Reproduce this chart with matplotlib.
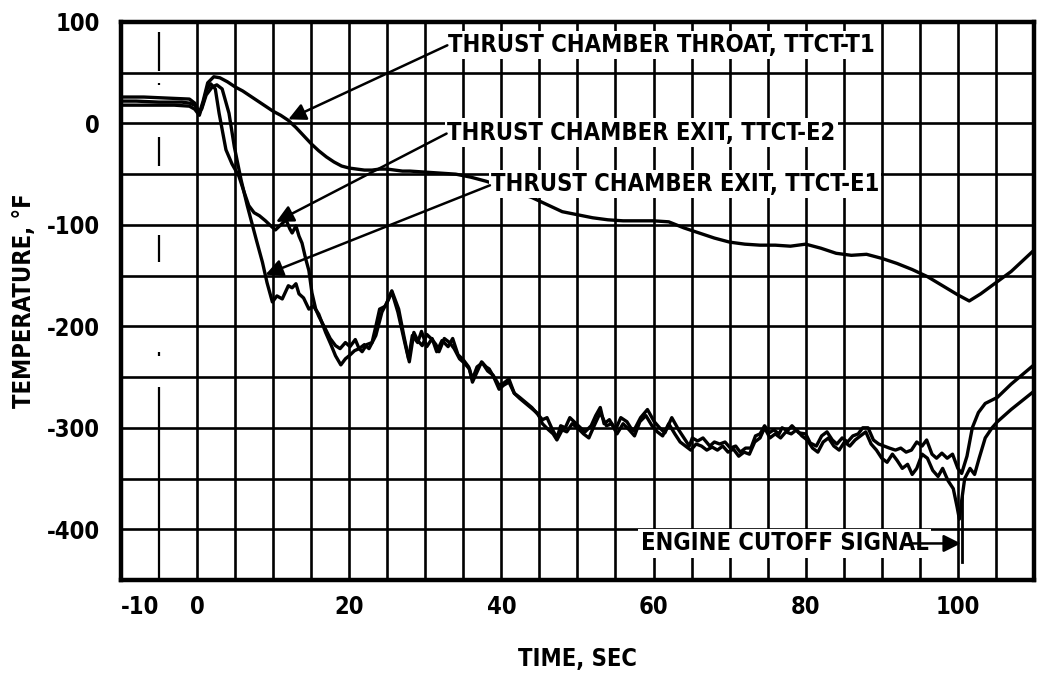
import matplotlib
matplotlib.use("Agg")
import matplotlib.pyplot as plt
from matplotlib import font_manager

# ---- data -------------------------------------------------------------
t1_time = [-10, -7, -4, -1, -0.3, 0.3, 0.8, 1.4, 2.2, 3.0, 4, 5, 6, 7, 8, 9, 10,
           11, 12, 13, 14, 15, 16, 17, 18, 19, 20, 21, 22, 23, 24, 25, 26, 27,
           28, 30, 32, 34, 36, 38, 40, 42, 44, 46, 48, 50, 52, 54, 56, 58, 60,
           62, 64, 66, 68, 70, 72, 74, 76, 78, 80, 82, 84, 86, 88, 90, 92, 94,
           96, 98, 100, 101.5, 103, 105, 107, 110]
t1_temp = [26, 26, 25, 24, 20, 10, 22, 40, 46, 45, 41, 36, 32, 27, 22, 17, 12,
           8, 3, -4, -12, -20, -27, -33, -38, -42, -44, -45, -46, -46, -45, -45,
           -46, -47, -47, -48, -49, -50, -53, -57, -62, -68, -73, -80, -87, -90,
           -93, -95, -96, -96, -96, -97, -103, -108, -113, -117, -119, -120,
           -120, -121, -119, -123, -128, -130, -129, -133, -138, -144, -151,
           -160, -169, -175, -168, -157, -146, -125]

e1_time = [-10, -8, -5, -2, -1, -0.3, 0.2, 0.6, 1.2, 2.0, 2.6, 3.3, 4.2, 4.9,
           5.8, 6.6, 7.8, 8.6, 9.2, 9.9, 10.5, 11.2, 12.0, 12.5, 13.0, 13.4,
           14.0, 14.7, 15.3, 16.0, 16.9, 17.6, 18.2, 18.9, 19.5, 20.0, 20.7,
           21.3, 22.0, 22.6, 23.5, 24.3, 25.2, 25.6, 26.4, 27.3, 27.8, 28.3,
           29.0, 29.5, 30.2, 30.9, 31.5, 32.2, 33.0, 33.6, 34.3, 35.0, 35.7,
           36.2, 36.8, 37.5, 38.2, 38.9, 39.7, 40.3, 41.0, 41.7, 42.4, 43.2,
           44.0, 44.7, 45.4, 46.0, 46.6, 47.3, 47.8, 48.4, 49.0, 49.7, 50.4,
           51.0, 51.8, 52.4, 53.0, 53.5, 54.2, 55.0, 55.7, 56.5, 57.0, 57.4,
           58.3, 59.2, 60.1, 60.8, 61.5, 62.4, 63.3, 64.0, 64.7, 65.1, 65.8,
           66.5, 67.4, 68.0, 68.7, 69.4, 70.1, 70.8, 71.4, 72.1, 72.8, 73.4,
           74.0, 74.6, 75.2, 75.8, 76.5, 76.9, 77.6, 78.2, 79.1, 80.0, 80.6,
           81.4, 82.1, 82.8, 83.5, 84.1, 84.8, 85.5, 86.2, 86.9, 87.5, 88.2,
           88.9, 89.6, 90.3, 91.0, 91.8, 92.5, 93.2, 93.9, 94.6, 95.3, 95.9,
           96.6, 97.2, 97.9, 98.6, 99.3, 100.0, 100.5, 101.2, 101.9, 102.7,
           103.6, 105.2, 107.0, 110.0]
e1_temp = [22, 22, 21, 21, 20, 18, 12, 14, 28, 36, 38, 34, 10, -23,
           -56, -81, -115, -137, -157, -176, -170, -173, -160, -162, -158, -168,
           -172, -183, -180, -188, -206, -218, -229, -238, -232, -229, -224,
           -222, -218, -222, -209, -186, -173, -166, -186, -216, -232, -209,
           -216, -205, -220, -212, -225, -214, -220, -212, -228, -233, -240,
           -252, -240, -236, -244, -248, -258, -256, -252, -266, -270, -275,
           -280, -286, -292, -290, -300, -310, -298, -300, -290, -295, -300,
           -304, -298, -288, -280, -296, -292, -302, -290, -294, -300, -303,
           -290, -282, -294, -300, -305, -290, -302, -310, -318, -310, -313,
           -310, -318, -314, -316, -314, -320, -318, -324, -320, -320, -308,
           -306, -298, -305, -302, -306, -300, -303, -298, -305, -306, -315,
           -318, -308, -304, -312, -316, -310, -314, -308, -306, -300, -300,
           -312, -316, -318, -320, -322, -320, -324, -322, -314, -318, -312,
           -326, -330, -325, -330, -326, -340, -345, -328, -300, -285,
           -276, -270, -257, -238]

e2_time = [-10, -6, -3, -1, -0.3, 0.3, 0.8, 1.3, 1.8, 2.4, 2.9, 3.8, 4.6, 5.5,
           6.2, 6.8, 7.5, 8.2, 9.0, 9.7, 10.3, 11.0, 11.7, 12.2, 12.5, 13.0,
           13.4, 13.8, 14.3, 14.7, 15.1, 15.6, 16.0, 16.9, 17.5, 18.2, 18.8,
           19.5, 20.1, 20.8, 21.3, 21.7, 22.3, 23.0, 23.5, 24.0, 24.8, 25.3,
           25.6, 26.5, 27.2, 27.9, 28.5, 29.0, 29.6, 30.2, 30.9, 31.4, 31.8,
           32.5, 33.2, 33.8, 34.5, 35.1, 35.8, 36.2, 36.8, 37.4, 38.0, 38.4,
           39.0, 39.7, 40.3, 41.0, 41.7, 42.4, 43.2, 44.0, 44.8, 45.4, 46.2,
           46.8, 47.3, 48.0, 48.6, 49.3, 50.0, 50.8, 51.5, 52.2, 53.0, 53.8,
           54.5, 55.2, 56.0, 56.8, 57.5, 58.2, 59.0, 59.8, 60.5, 61.2, 62.0,
           62.8, 63.5, 64.2, 64.9, 65.6, 66.3, 67.0, 67.7, 68.4, 69.1, 69.8,
           70.5, 71.2, 71.9, 72.6, 73.3, 74.0, 74.6, 75.3, 76.0, 76.7, 77.4,
           78.1, 78.8, 79.5, 80.2, 80.9, 81.6, 82.3, 83.0, 83.7, 84.4, 85.1,
           85.8, 86.5, 87.2, 87.9, 88.6, 89.3, 90.0, 90.7, 91.4, 92.0, 92.7,
           93.4, 94.0, 94.6, 95.3, 96.0, 96.7, 97.4, 98.0, 98.7, 99.4, 99.9,
           100.2, 100.5, 100.9, 101.6, 102.2, 102.8, 103.6, 104.5, 105.2,
           107.0, 110.0]
e2_temp = [18, 18, 18, 17, 14, 8, 20, 34, 39, 34, 10, -26, -40, -52,
           -68, -81, -88, -91, -96, -101, -105, -100, -95, -104, -108, -101,
           -111, -118, -134, -145, -167, -183, -190, -203, -212, -219, -222,
           -216, -220, -213, -222, -225, -218, -216, -200, -183, -180, -170,
           -165, -183, -210, -235, -206, -214, -219, -208, -213, -218, -225,
           -212, -216, -222, -232, -236, -242, -255, -245, -235, -240, -242,
           -250, -262, -258, -255, -266, -271, -276, -281, -286, -296, -302,
           -306, -312, -302, -304, -296, -300, -306, -310, -298, -285, -298,
           -296, -306, -296, -302, -308, -294, -288, -298, -304, -308, -296,
           -306, -314, -318, -322, -316, -318, -322, -319, -322, -318, -324,
           -321, -328, -324, -326, -314, -310, -300, -310, -306, -310, -304,
           -306, -302, -308, -312, -320, -324, -314, -310, -318, -322, -314,
           -318, -312, -308, -304, -316, -322, -330, -334, -326, -332, -340,
           -336, -346, -340, -326, -330, -342, -348, -340, -352, -360, -378,
           -390, -372, -350, -340, -346, -330, -310, -300, -294,
           -282, -264]

x_ticks = [-10, 0, 20, 40, 60, 80, 100]
y_ticks = [100, 0, -100, -200, -300, -400]

# ---- fonts ------------------------------------------------------------
names = {f.name for f in font_manager.fontManager.ttflist}
if "Liberation Sans Narrow" in names:
    FAM = ["Liberation Sans Narrow", "DejaVu Sans"]
    STRETCH = "normal"
else:
    FAM = ["DejaVu Sans", "Liberation Sans"]
    STRETCH = "condensed"
plt.rcParams["font.family"] = FAM
plt.rcParams["font.weight"] = "bold"
plt.rcParams["font.stretch"] = STRETCH

FS = 17

# ---- figure -----------------------------------------------------------
fig = plt.figure(figsize=(10.41, 6.80), dpi=100)
ax = fig.add_axes([0.1162, 0.1471, 0.877, 0.8206])
ax.set_xlim(-10, 110)
ax.set_ylim(-450, 100)

# grid every 5 s and 50 deg
grid_kw = dict(color="black", lw=1.9, zorder=1)
for gx in range(0, 111, 5):
    ax.axvline(gx, **grid_kw)
for gy in range(-400, 100, 50):
    ax.axhline(gy, **grid_kw)
# the -5 s line is broken into pieces
minus5_segments = [(52, 90), (38, 40), (-42, -13), (-137, -110), (-229, -225), (-450, -260)]
for lo, hi in minus5_segments:
    ax.plot([-5, -5], [lo, hi], color="black", lw=1.6, zorder=1, solid_capstyle="butt")

for sp in ax.spines.values():
    sp.set_linewidth(3.2)

line_kw = dict(color="black", lw=2.4, zorder=3, solid_joinstyle="round")
ax.plot(t1_time, t1_temp, **line_kw)
ax.plot(e1_time, e1_temp, **line_kw)
ax.plot(e2_time, e2_temp, **line_kw)

# ---- labels with leaders ----------------------------------------------
box = dict(facecolor="white", edgecolor="none", pad=1.5)
txt_kw = dict(fontsize=FS, fontweight="bold", va="center", ha="left",
              zorder=4, bbox=box)
arrow_kw = dict(arrowstyle="-|>", color="black", lw=1.8, mutation_scale=26,
                shrinkA=0, shrinkB=0)

ax.text(33.0, 77, "THRUST CHAMBER THROAT, TTCT-T1", **txt_kw)
ax.annotate("", xy=(12.0, 4), xytext=(32.9, 77), arrowprops=arrow_kw, zorder=5)

ax.text(32.9, -9, "THRUST CHAMBER EXIT, TTCT-E2", **txt_kw)
ax.annotate("", xy=(10.4, -97), xytext=(32.8, -10), arrowprops=arrow_kw, zorder=5)

ax.text(38.6, -60, "THRUST CHAMBER EXIT, TTCT-E1", **txt_kw)
ax.annotate("", xy=(9.0, -149), xytext=(38.5, -61), arrowprops=arrow_kw, zorder=5)

ax.text(58.3, -414, "ENGINE CUTOFF SIGNAL", **txt_kw)
ax.annotate("", xy=(100.4, -414), xytext=(94.0, -414), arrowprops=arrow_kw, zorder=5)
ax.plot([100.5, 100.5], [-432, -365], color="black", lw=2.0, zorder=3)

# ---- ticks / axis labels ----------------------------------------------
ax.set_xticks(x_ticks)
ax.set_xticklabels([str(v) for v in x_ticks])
ax.set_yticks(y_ticks)
ax.set_yticklabels([str(v) for v in y_ticks])
ax.tick_params(length=0, labelsize=FS)
ax.tick_params(axis="x", pad=11)
ax.tick_params(axis="y", pad=15)
for lab in ax.get_xticklabels():
    lab.set_fontweight("bold")
    if lab.get_text() == "-10":
        lab.set_horizontalalignment("left")
for lab in ax.get_yticklabels():
    lab.set_fontweight("bold")

ax.set_xlabel("TIME, SEC", fontsize=FS, fontweight="bold", labelpad=20)
ax.set_ylabel("TEMPERATURE, °F", fontsize=FS, fontweight="bold", labelpad=8)

fig.savefig("out.png", dpi=100, facecolor="white")
